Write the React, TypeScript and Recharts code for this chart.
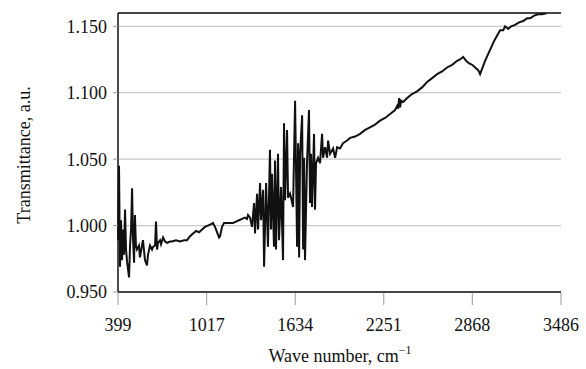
import React from "react";
import {
  LineChart,
  Line,
  XAxis,
  YAxis,
  CartesianGrid,
  ReferenceLine,
} from "recharts";

// wave numbers (cm^-1) and transmittance
const waveNumbers = [
  399, 406, 413, 420, 427, 434, 441, 448, 455, 462, 476, 483, 490, 497, 504, 511,
  517, 524, 531, 545, 552, 566, 573, 587, 601, 608, 622, 636, 643, 657, 664, 671,
  678, 692, 699, 713, 727, 741, 761, 775, 803, 831, 859, 880, 901, 922, 943, 964,
  985, 1005, 1026, 1047, 1061, 1075, 1089, 1103, 1110, 1124, 1138, 1159, 1180, 1201,
  1221, 1242, 1263, 1284, 1298, 1305, 1319, 1333, 1347, 1354, 1368, 1375, 1389, 1396,
  1410, 1417, 1431, 1444, 1458, 1465, 1472, 1486, 1493, 1500, 1514, 1521, 1535, 1549,
  1556, 1563, 1577, 1584, 1598, 1605, 1619, 1633, 1647, 1654, 1661, 1668, 1682, 1689,
  1696, 1702, 1716, 1730, 1737, 1744, 1751, 1765, 1772, 1779, 1793, 1807, 1821, 1828,
  1842, 1856, 1863, 1877, 1898, 1912, 1926, 1946, 1967, 1995, 2016, 2051, 2086, 2121,
  2155, 2190, 2225, 2260, 2295, 2330, 2344, 2351, 2358, 2365, 2372, 2386, 2414, 2448,
  2483, 2518, 2553, 2588, 2623, 2657, 2692, 2727, 2762, 2783, 2804, 2825, 2846, 2867,
  2888, 2909, 2922, 2936, 2957, 2978, 2999, 3020, 3041, 3062, 3083, 3097, 3118, 3139,
  3166, 3194, 3222, 3250, 3271, 3299, 3327, 3354, 3389,
];

const transmittance = [
  0.989, 1.045, 0.969, 1.004, 0.974, 0.997, 0.978, 1.012, 0.982, 0.973, 0.961, 0.985,
  0.997, 1.028, 0.989, 0.972, 1.008, 0.985, 0.982, 0.985, 0.976, 0.985, 0.989, 0.974,
  0.970, 0.978, 0.985, 0.982, 0.984, 0.985, 1.003, 0.982, 0.987, 0.989, 0.986, 0.991,
  0.988, 0.987, 0.988, 0.988, 0.989, 0.988, 0.989, 0.989, 0.992, 0.994, 0.996, 0.995,
  0.997, 0.999, 1.000, 1.001, 1.002, 0.999, 0.995, 0.991, 0.992, 0.999, 1.002, 1.002,
  1.002, 1.002, 1.003, 1.004, 1.005, 1.006, 1.005, 1.008, 1.006, 0.999, 1.017, 0.994,
  1.024, 0.997, 1.032, 1.004, 1.027, 0.969, 1.032, 0.984, 1.057, 0.997, 1.039, 0.984,
  1.049, 0.982, 1.054, 0.989, 1.029, 0.974, 1.077, 1.019, 1.072, 1.021, 1.024, 1.021,
  1.014, 1.094, 0.984, 1.062, 0.976, 1.054, 1.083, 0.982, 1.051, 0.974, 1.047, 1.087,
  1.017, 1.054, 1.014, 1.069, 1.012, 1.047, 1.051, 1.047, 1.069, 1.051, 1.059, 1.051,
  1.064, 1.054, 1.058, 1.051, 1.059, 1.058, 1.062, 1.064, 1.066, 1.067, 1.069, 1.072,
  1.074, 1.076, 1.079, 1.081, 1.084, 1.087, 1.090, 1.088, 1.096, 1.089, 1.094, 1.093,
  1.096, 1.099, 1.101, 1.104, 1.108, 1.111, 1.114, 1.116, 1.119, 1.121, 1.124, 1.125,
  1.127, 1.124, 1.122, 1.121, 1.119, 1.117, 1.114, 1.118, 1.124, 1.129, 1.134, 1.139,
  1.143, 1.147, 1.147, 1.150, 1.148, 1.150, 1.151, 1.153, 1.154, 1.156, 1.156, 1.158,
  1.159, 1.159, 1.160,
];

const xTicks = [399, 1017, 1634, 2251, 2868, 3486];
const yTicks = [0.95, 1.0, 1.05, 1.1, 1.15];

const data = waveNumbers.map((w, i) => ({ w, t: transmittance[i] }));

const font = "'Liberation Serif', 'DejaVu Serif', serif";

const XTick = (props: any) => {
  const { x, y, payload } = props;
  return (
    <g>
      <line x1={x} x2={x} y1={y - 7} y2={y + 5} stroke="#999" strokeWidth={1} />
      <text x={x} y={y + 31} textAnchor="middle" fontSize={18} fontFamily={font} fill="#111">
        {payload.value}
      </text>
    </g>
  );
};

const XLabel = () => (
  <text x={340} y={362} textAnchor="middle" fontSize={18} fontFamily={font} fill="#111">
    Wave number, cm
    <tspan dy={-8} fontSize={12}>−1</tspan>
  </text>
);

const YLabel = () => (
  <text
    x={24}
    y={155}
    transform="rotate(-90 24 155)"
    textAnchor="middle"
    dominantBaseline="central"
    fontSize={18}
    fontFamily={font}
    fill="#111"
  >
    Transmittance, a.u.
  </text>
);

export default function App() {
  return (
    <div style={{ position: "absolute", left: 0, top: 0, background: "#fff" }}>
      <LineChart
        width={586}
        height={369}
        data={data}
        margin={{ top: 13, right: 25, left: 0, bottom: 0 }}
      >
        <CartesianGrid horizontal vertical={false} stroke="#c8c8c8" strokeWidth={1.2} />
        <XAxis
          dataKey="w"
          type="number"
          domain={[399, 3486]}
          ticks={xTicks}
          height={77}
          axisLine={{ stroke: "#111", strokeWidth: 1.5 }}
          tickLine={false}
          tick={<XTick />}
          interval={0}
          label={() => <XLabel />}
        />
        <YAxis
          type="number"
          domain={[0.95, 1.16]}
          ticks={yTicks}
          width={118}
          allowDataOverflow
          tickFormatter={(v: number) => v.toFixed(3)}
          tick={{ fontSize: 18, fontFamily: font, fill: "#111" }}
          tickSize={5}
          tickMargin={6}
          tickLine={{ stroke: "#999" }}
          axisLine={{ stroke: "#111", strokeWidth: 1.5 }}
          label={() => <YLabel />}
        />
        <YAxis
          yAxisId="right"
          orientation="right"
          domain={[0.95, 1.16]}
          width={0}
          tick={false}
          tickLine={false}
          axisLine={{ stroke: "#111", strokeWidth: 1.5 }}
        />
        <ReferenceLine y={1.16} stroke="#111" strokeWidth={1.5} />
        <Line
          type="linear"
          dataKey="t"
          stroke="#111"
          strokeWidth={2}
          dot={false}
          isAnimationActive={false}
        />
      </LineChart>
    </div>
  );
}
